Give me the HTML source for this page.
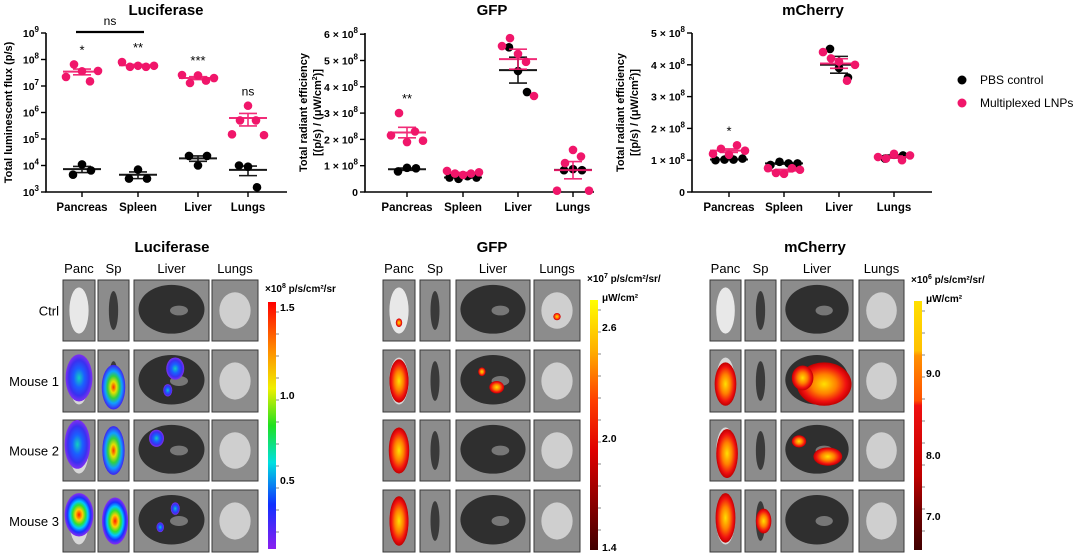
<!DOCTYPE html>
<html><head><meta charset="utf-8">
<style>
html,body{margin:0;padding:0;background:#fff;}
body{width:1080px;height:553px;overflow:hidden;font-family:"Liberation Sans",Arial,sans-serif;}
svg text{font-family:"Liberation Sans",Arial,sans-serif;}
</style></head>
<body>
<svg id="fig" width="1080" height="553" viewBox="0 0 1080 553" xmlns="http://www.w3.org/2000/svg">
<defs>
 <radialGradient id="g-rainbow"><stop offset="0" stop-color="#ff1a00"/><stop offset="0.25" stop-color="#ffd000"/><stop offset="0.45" stop-color="#30e030"/><stop offset="0.62" stop-color="#00c8ff"/><stop offset="0.8" stop-color="#1a30ff"/><stop offset="1" stop-color="#8a2cf0"/></radialGradient>
 <radialGradient id="g-blue"><stop offset="0" stop-color="#10d0c0"/><stop offset="0.4" stop-color="#1a60ff"/><stop offset="0.75" stop-color="#3a30f0"/><stop offset="1" stop-color="#8030f0"/></radialGradient>
 <radialGradient id="g-sp"><stop offset="0" stop-color="#ff3000"/><stop offset="0.25" stop-color="#e8e000"/><stop offset="0.5" stop-color="#30d040"/><stop offset="0.72" stop-color="#10a0ff"/><stop offset="1" stop-color="#4020f0"/></radialGradient>
 <radialGradient id="g-hot"><stop offset="0" stop-color="#ffe000"/><stop offset="0.45" stop-color="#ff8000"/><stop offset="0.8" stop-color="#f01010"/><stop offset="1" stop-color="#c00000"/></radialGradient>
 <linearGradient id="cb-luc" x1="0" y1="0" x2="0" y2="1"><stop offset="0" stop-color="#ff0000"/><stop offset="0.2" stop-color="#ff9000"/><stop offset="0.35" stop-color="#f0f000"/><stop offset="0.5" stop-color="#20e020"/><stop offset="0.65" stop-color="#00e0e0"/><stop offset="0.82" stop-color="#1030ff"/><stop offset="1" stop-color="#8a20f0"/></linearGradient>
 <linearGradient id="cb-gfp" x1="0" y1="0" x2="0" y2="1"><stop offset="0" stop-color="#ffff00"/><stop offset="0.2" stop-color="#ffb000"/><stop offset="0.4" stop-color="#ff4000"/><stop offset="0.6" stop-color="#e00000"/><stop offset="0.8" stop-color="#900000"/><stop offset="1" stop-color="#400000"/></linearGradient>
 <linearGradient id="cb-mch" x1="0" y1="0" x2="0" y2="1"><stop offset="0" stop-color="#ffe000"/><stop offset="0.2" stop-color="#ffc000"/><stop offset="0.22" stop-color="#ff9000"/><stop offset="0.4" stop-color="#ff5000"/><stop offset="0.42" stop-color="#f01010"/><stop offset="0.7" stop-color="#c00000"/><stop offset="0.85" stop-color="#700000"/><stop offset="1" stop-color="#400000"/></linearGradient>
</defs>
<g id="charts"></g>
<g id="tiles"></g>
<g id="legend">
 <circle cx="962" cy="80" r="4.5" fill="#000"/>
 <text x="980" y="84" font-size="12">PBS control</text>
 <circle cx="962" cy="103" r="4.5" fill="#f0166a"/>
 <text x="980" y="107" font-size="12">Multiplexed LNPs</text>
</g>
</svg>
<script>
const NS='http://www.w3.org/2000/svg';
const PINK='#f0166a';
const categories=['Pancreas','Spleen','Liver','Lungs'];
// Luciferase (p/s), log scale
const lucPBS=[[4.5e3,1.1e4,6.5e3],[3.2e3,7e3,3.2e3],[2.3e4,1e4,2.3e4],[1e4,9e3,1.5e3]];
const lucLNP=[[2.2e7,6.5e7,3.6e7,1.5e7,3.7e7],[8e7,5.3e7,5.8e7,5.3e7,5.8e7],[2.6e7,1.3e7,2.5e7,1.6e7,2e7],[1.5e5,5e5,1.8e6,5e5,1.4e5]];
const lucTicks=[3,4,5,6,7,8,9];
const lucStars=['*','**','***','ns'];
// GFP (x1e8)
const gfpPBS=[[0.78,0.92,0.9],[0.55,0.5,0.6,0.55],[5.5,4.6,3.8],[0.83,0.87,0.83]];
const gfpLNP=[[2.15,3.0,1.9,2.3,1.95],[0.8,0.7,0.65,0.7,0.75],[5.55,5.85,5.25,4.95,3.65],[0.05,1.1,1.6,1.35,0.05]];
const gfpTicks=[0,1,2,3,4,5,6];
const gfpStars=['**','','',''];
// mCherry (x1e8)
const mchPBS=[[1.0,1.02,1.02,1.05],[0.85,0.95,0.9,0.9],[4.5,3.9,3.6],[1.05,1.17,1.15]];
const mchLNP=[[1.2,1.36,1.17,1.47,1.3],[0.75,0.6,0.57,0.75,0.7],[4.4,4.2,4.1,3.5,4.0],[1.1,1.05,1.2,1.0,1.15]];
const mchTicks=[0,1,2,3,4,5];
const mchStars=['*','','',''];

function el(tag,attrs,parent,text){const e=document.createElementNS(NS,tag);for(const k in attrs)e.setAttribute(k,attrs[k]);if(text!==undefined)e.textContent=text;parent.appendChild(e);return e;}
function stats(a){const n=a.length,m=a.reduce((s,v)=>s+v,0)/n;const sd=Math.sqrt(a.reduce((s,v)=>s+(v-m)*(v-m),0)/(n-1));return [m,sd/Math.sqrt(n)];}

function chart(cfg){
 const root=document.getElementById('charts');
 const g=el('g',{},root);
 
 
 const t=el('text',{x:cfg.titleX,y:15,'font-size':15,'font-weight':'bold','text-anchor':'middle'},g,cfg.title);
 
 
 const ax=el('path',{d:`M${cfg.x0},${cfg.yTop}V${cfg.yBot}H${cfg.x1}`,stroke:'#000','stroke-width':1.6,fill:'none'},g);
 
 
 cfg.ticks.forEach(tv=>{
  const y=cfg.y(cfg.log?Math.pow(10,tv):tv);
  el('line',{x1:cfg.x0-5,x2:cfg.x0,y1:y,y2:y,stroke:'#000','stroke-width':1.4},g);
  const tx=el('text',{x:cfg.x0-7,y:y+4,'font-size':10.5,'font-weight':'bold','text-anchor':'end'},g);
  
  
  if(cfg.log){tx.appendChild(document.createTextNode('10'));el('tspan',{dy:-5,'font-size':8},tx,String(tv));}
  else if(tv===0){tx.textContent='0';}
  else{tx.appendChild(document.createTextNode(tv+' × 10'));el('tspan',{dy:-5,'font-size':8},tx,'8');}
 });
 const yl=el('text',{transform:`translate(${cfg.ylX},${(cfg.yTop+cfg.yBot)/2}) rotate(-90)`,'font-size':11,'font-weight':'bold','text-anchor':'middle'},g);
 
 
 cfg.ylab.forEach((l,i)=>{const ts=el('tspan',{x:0,dy:i?14:0},yl);ts.innerHTML=l;});
 categories.forEach((c,i)=>{
  const cx=cfg.cx[i];
  el('line',{x1:cx,x2:cx,y1:cfg.yBot,y2:cfg.yBot+5,stroke:'#000','stroke-width':1.4},g);
  const ct=el('text',{x:cx,y:cfg.yBot+19,'font-size':11.5,'font-weight':'bold','text-anchor':'middle'},g,c);
  
  
  [[cfg.pbs[i],'#000'],[cfg.lnp[i],PINK]].forEach(([arr,col])=>{
   const n=arr.length,sp=Math.min(9,32/Math.max(1,n-1));
   const [m,se]=stats(arr);
   const ym=cfg.y(m),yh=cfg.y(m+se),ylo=cfg.y(Math.max(m-se,cfg.log?1e3:0));
   arr.forEach((v,j)=>{
    const d=el('circle',{cx:cx+(j-(n-1)/2)*sp,cy:cfg.y(v),r:4.3,fill:col},g);
    
    
   });
   const mg=el('g',{stroke:col,'stroke-width':1.6,opacity:0.9},g);
   
   
   el('line',{x1:cx-19,x2:cx+19,y1:ym,y2:ym,'stroke-width':2},mg);
   el('line',{x1:cx,x2:cx,y1:yh,y2:ylo},mg);
   el('line',{x1:cx-9,x2:cx+9,y1:yh,y2:yh},mg);
   el('line',{x1:cx-9,x2:cx+9,y1:ylo,y2:ylo},mg);
  });
  if(cfg.stars[i]){
   const top=Math.min(...cfg.lnp[i].map(cfg.y));
   const s=el('text',{x:cx,y:top-10,'font-size':cfg.stars[i]==='ns'?12:13,'text-anchor':'middle'},g,cfg.stars[i]);
   
   
  }
 });
}
chart({name:'luciferase-chart',title:'Luciferase',titleX:166,x0:46,x1:287,yTop:33,yBot:192,log:true,
 y:v=>192-(Math.log10(v)-3)*159/6,ticks:lucTicks,ylX:12,ylab:['Total luminescent flux (p/s)'],
 cx:[82,138,198,248],pbs:lucPBS,lnp:lucLNP,stars:lucStars});
chart({name:'gfp-chart',title:'GFP',titleX:492,x0:365,x1:594,yTop:33,yBot:192,log:false,
 y:v=>192-v*26.3,ticks:gfpTicks,ylX:307,ylab:['Total radiant efficiency','[(p/s) / (μW/cm<tspan dy="-4" font-size="7">2</tspan><tspan dy="4">)]</tspan>'],
 cx:[407,463,518,573],pbs:gfpPBS,lnp:gfpLNP,stars:gfpStars});
chart({name:'mcherry-chart',title:'mCherry',titleX:813,x0:692,x1:932,yTop:33,yBot:192,log:false,
 y:v=>192-v*31.8,ticks:mchTicks,ylX:624,ylab:['Total radiant efficiency','[(p/s) / (μW/cm<tspan dy="-4" font-size="7">2</tspan><tspan dy="4">)]</tspan>'],
 cx:[729,784,839,894],pbs:mchPBS,lnp:mchLNP,stars:mchStars});
// ns bracket
(function(){const g=document.getElementById('charts');
 const b=el('line',{x1:76,x2:144,y1:32,y2:32,stroke:'#000','stroke-width':2.2},g);
 
 
 const t=el('text',{x:110,y:25,'font-size':12,'text-anchor':'middle'},g,'ns');
 
 
})();

// ---- imaging panels ----
const rowsY=[[280,341],[350,412],[420,481],[490,552]];
const rowNames=['Ctrl','Mouse 1','Mouse 2','Mouse 3'];
const colNames=['Panc','Sp','Liver','Lungs'];
const panels=[
 {name:'luciferase-images',title:'Luciferase',tx:172,cols:[[63,95],[98,129],[134,209],[212,258]],
  cb:{x:268,y0:302,y1:549,grad:'cb-luc',l1:'×10',exp:'8',l1b:' p/s/cm²/sr',l2:'',ticks:[['1.5',307],['1.0',395],['0.5',480]]},
  heat:{'1-0':[['g-blue',0.5,0.45,0.42,0.38]],'1-1':[['g-sp',0.5,0.6,0.38,0.36]],'1-2':[['g-blue',0.55,0.3,0.12,0.18],['g-blue',0.45,0.65,0.06,0.1]],
        '2-0':[['g-blue',0.45,0.4,0.4,0.4]],'2-1':[['g-sp',0.5,0.5,0.36,0.4]],'2-2':[['g-blue',0.3,0.3,0.1,0.14]],
        '3-0':[['g-rainbow',0.5,0.4,0.45,0.35]],'3-1':[['g-rainbow',0.55,0.5,0.42,0.38]],'3-2':[['g-blue',0.55,0.3,0.06,0.1],['g-blue',0.35,0.6,0.05,0.08]]}},
 {name:'gfp-images',title:'GFP',tx:492,cols:[[383,415],[420,450],[456,530],[534,580]],
  cb:{x:590,y0:300,y1:550,grad:'cb-gfp',l1:'×10',exp:'7',l1b:' p/s/cm²/sr/',l2:'μW/cm²',ticks:[['2.6',327],['2.0',438],['1.4',547]]},
  heat:{'1-0':[['g-hot',0.5,0.5,0.3,0.35]],'1-2':[['g-hot',0.55,0.6,0.1,0.1],['g-hot',0.35,0.35,0.05,0.07]],
        '2-0':[['g-hot',0.5,0.5,0.32,0.38]],'3-0':[['g-hot',0.5,0.5,0.3,0.4]],'0-0':[['g-hot',0.5,0.7,0.1,0.07]],'0-3':[['g-hot',0.5,0.6,0.08,0.06]]}},
 {name:'mcherry-images',title:'mCherry',tx:815,cols:[[710,741],[745,776],[781,853],[859,904]],
  cb:{x:914,y0:301,y1:550,grad:'cb-mch',l1:'×10',exp:'6',l1b:' p/s/cm²/sr/',l2:'μW/cm²',ticks:[['9.0',373],['8.0',455],['7.0',516]]},
  heat:{'1-0':[['g-hot',0.5,0.55,0.35,0.35]],'1-2':[['g-hot',0.6,0.55,0.38,0.35],['g-hot',0.3,0.45,0.15,0.2]],
        '2-0':[['g-hot',0.55,0.55,0.35,0.4]],'2-2':[['g-hot',0.65,0.6,0.2,0.15],['g-hot',0.25,0.35,0.1,0.1]],
        '3-0':[['g-hot',0.5,0.45,0.32,0.4]],'3-1':[['g-hot',0.6,0.5,0.25,0.2]]}}
];
const tiles=document.getElementById('tiles');
panels.forEach((p,pi)=>{
 const g=el('g',{},tiles);
 
 
 const tt=el('text',{x:p.tx,y:252,'font-size':15,'font-weight':'bold','text-anchor':'middle'},g,p.title);
 
 
 p.cols.forEach((c,ci)=>{
  const cl=el('text',{x:(c[0]+c[1])/2,y:273,'font-size':13,'text-anchor':'middle'},g,colNames[ci]);
  
  
 });
 rowsY.forEach((r,ri)=>{
  if(pi===0){const rl=el('text',{x:59,y:(r[0]+r[1])/2+5,'font-size':13,'text-anchor':'end'},g,rowNames[ri]);
   
   }
  p.cols.forEach((c,ci)=>{
   const w=c[1]-c[0],h=r[1]-r[0],x=c[0],y=r[0];
   const tg=el('g',{},g);
   
   
   el('rect',{x:x,y:y,width:w,height:h,fill:'#8c8c8c',stroke:'#3a3a3a','stroke-width':1},tg);
   if(ci===0){el('ellipse',{cx:x+w*0.5,cy:y+h*0.5,rx:w*0.3,ry:h*0.38,fill:ri===0?'#e8e8e8':'#d8d8d8'},tg);}
   if(ci===1){el('ellipse',{cx:x+w*0.5,cy:y+h*0.5,rx:w*0.15,ry:h*0.32,fill:'#3a3a3a'},tg);}
   if(ci===2){el('ellipse',{cx:x+w*0.5,cy:y+h*0.48,rx:w*0.44,ry:h*0.4,fill:'#2f2f2f'},tg);
     el('ellipse',{cx:x+w*0.6,cy:y+h*0.5,rx:w*0.12,ry:h*0.08,fill:'#777'},tg);}
   if(ci===3){el('ellipse',{cx:x+w*0.5,cy:y+h*0.5,rx:w*0.34,ry:h*0.3,fill:'#cfcfcf'},tg);}
   (p.heat[ri+'-'+ci]||[]).forEach(hh=>{
    el('ellipse',{cx:x+w*hh[1],cy:y+h*hh[2],rx:w*hh[3],ry:h*hh[4],fill:`url(#${hh[0]})`},tg);
   });
  });
 });
 const cb=p.cb;
 const cg=el('g',{},g);
 
 
 el('rect',{x:cb.x,y:cb.y0,width:8,height:cb.y1-cb.y0,fill:`url(#${cb.grad})`},cg);
 const lt=el('text',{x:cb.x-3,y:cb.y0-10-(cb.l2?8:0),'font-size':10,'font-weight':'bold'},cg);
 lt.appendChild(document.createTextNode(cb.l1));el('tspan',{dy:-4,'font-size':7},lt,cb.exp);el('tspan',{dy:4},lt,cb.l1b);
 if(cb.l2)el('text',{x:cb.x+12,y:cb.y0+1,'font-size':10,'font-weight':'bold'},cg,cb.l2);
 for(let yy=cb.y0+10;yy<cb.y1;yy+=22)el('line',{x1:cb.x+8,x2:cb.x+11,y1:yy,y2:yy,stroke:'#555','stroke-width':0.7},cg);
 cb.ticks.forEach(tk=>el('text',{x:cb.x+12,y:tk[1]+4,'font-size':10.5,'font-weight':'bold'},cg,tk[0]));
});
</script>
</body></html>
